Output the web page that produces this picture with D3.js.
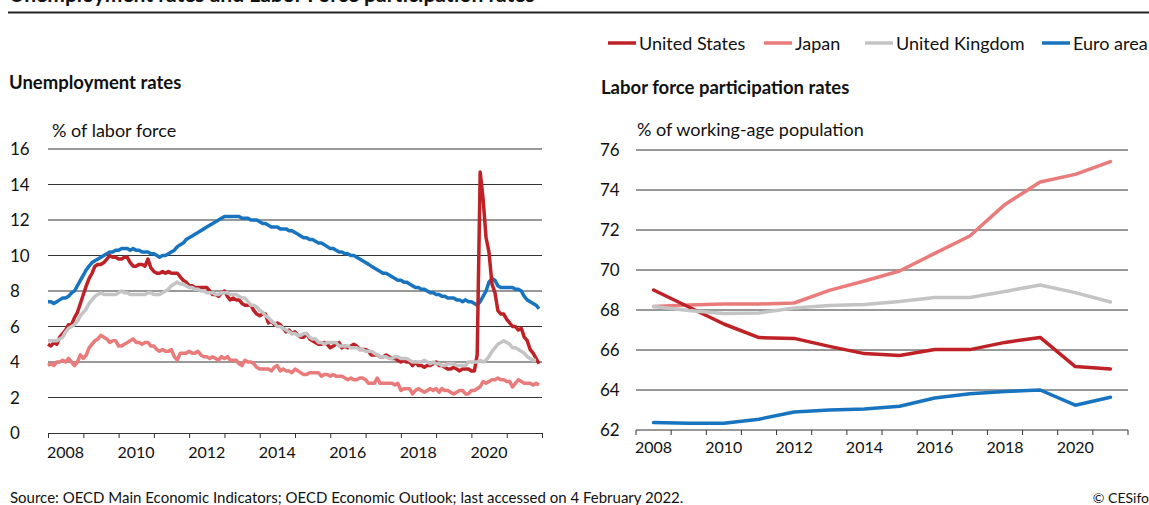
<!DOCTYPE html>
<html>
<head>
<meta charset="utf-8">
<script src="https://cdn.jsdelivr.net/npm/d3@7"></script>
<style>
  body { margin: 0; background: #fff; }
  svg { font-family: Lato, "Noto Sans", sans-serif; }
</style>
</head>
<body>
<div id="chart"></div>
<script>
// series names and colours (legend order)
var seriesNames = ["United States", "Japan", "United Kingdom", "Euro area"];
var seriesColors = ["#be2126", "#e97b7b", "#c4c4c4", "#1874be"];

// monthly unemployment rates, Jan 2008 - Dec 2021 (% of labor force)
var usUnemp = [
  5.0, 4.9, 5.1, 5.0, 5.4, 5.6, 5.8, 6.1, 6.1, 6.5, 6.8, 7.3,
  7.8, 8.3, 8.7, 9.0, 9.4, 9.5, 9.5, 9.6, 9.8, 10.0, 9.9, 9.9,
  9.8, 9.8, 9.9, 9.9, 9.6, 9.4, 9.4, 9.5, 9.5, 9.4, 9.8, 9.3,
  9.1, 9.0, 9.0, 9.1, 9.0, 9.1, 9.0, 9.0, 9.0, 8.8, 8.6, 8.5,
  8.3, 8.3, 8.2, 8.2, 8.2, 8.2, 8.2, 8.0, 7.8, 7.8, 7.7, 7.9,
  8.0, 7.7, 7.5, 7.6, 7.5, 7.5, 7.3, 7.2, 7.2, 7.2, 6.9, 6.7,
  6.6, 6.7, 6.7, 6.2, 6.3, 6.1, 6.2, 6.1, 5.9, 5.7, 5.8, 5.6,
  5.7, 5.5, 5.4, 5.4, 5.6, 5.3, 5.2, 5.1, 5.0, 5.0, 5.1, 5.0,
  4.8, 4.9, 5.0, 5.1, 4.8, 4.9, 4.8, 4.9, 5.0, 4.9, 4.7, 4.7,
  4.7, 4.6, 4.4, 4.4, 4.4, 4.3, 4.3, 4.4, 4.3, 4.2, 4.2, 4.1,
  4.0, 4.1, 4.0, 4.0, 3.8, 4.0, 3.8, 3.8, 3.7, 3.8, 3.8, 3.9,
  4.0, 3.8, 3.8, 3.7, 3.6, 3.6, 3.7, 3.6, 3.5, 3.6, 3.6, 3.6,
  3.5, 3.5, 4.4, 14.7, 13.2, 11.0, 10.2, 8.4, 7.9, 6.9, 6.7, 6.7,
  6.4, 6.2, 6.0, 6.0, 5.8, 5.9, 5.4, 5.2, 4.7, 4.5, 4.2, 3.9
];
var jpUnemp = [
  3.8, 3.9, 3.8, 4.0, 4.0, 4.1, 4.0, 4.2, 4.0, 3.8, 4.0, 4.4,
  4.2, 4.4, 4.8, 5.0, 5.2, 5.3, 5.5, 5.4, 5.3, 5.1, 5.2, 5.2,
  4.9, 4.9, 5.0, 5.1, 5.2, 5.3, 5.1, 5.1, 5.0, 5.1, 5.1, 4.9,
  4.9, 4.7, 4.6, 4.7, 4.6, 4.6, 4.7, 4.3, 4.1, 4.5, 4.5, 4.5,
  4.6, 4.5, 4.5, 4.6, 4.4, 4.3, 4.3, 4.2, 4.3, 4.2, 4.1, 4.3,
  4.2, 4.3, 4.1, 4.1, 4.1, 3.9, 3.8, 4.1, 4.0, 4.0, 3.9, 3.7,
  3.6, 3.6, 3.6, 3.6, 3.5, 3.7, 3.8, 3.5, 3.6, 3.5, 3.5, 3.4,
  3.6, 3.5, 3.4, 3.3, 3.3, 3.4, 3.4, 3.4, 3.4, 3.2, 3.3, 3.3,
  3.2, 3.3, 3.2, 3.2, 3.2, 3.1, 3.0, 3.1, 3.0, 3.0, 3.1, 3.1,
  3.0, 2.8, 2.8, 2.8, 3.1, 2.8, 2.8, 2.8, 2.8, 2.8, 2.7, 2.8,
  2.4, 2.5, 2.5, 2.5, 2.2, 2.4, 2.5, 2.4, 2.3, 2.4, 2.5, 2.4,
  2.5, 2.3, 2.5, 2.4, 2.4, 2.3, 2.2, 2.3, 2.4, 2.4, 2.2, 2.2,
  2.4, 2.4, 2.5, 2.6, 2.9, 2.8, 2.9, 3.0, 3.0, 3.1, 3.0, 3.0,
  2.9, 2.9, 2.6, 2.8, 3.0, 2.9, 2.8, 2.8, 2.8, 2.7, 2.8, 2.7
];
// UK series stops at Nov 2021
var ukUnemp = [
  5.2, 5.2, 5.2, 5.2, 5.3, 5.4, 5.7, 5.9, 6.0, 6.1, 6.3, 6.6,
  6.8, 7.0, 7.3, 7.5, 7.7, 7.8, 7.9, 7.8, 7.8, 7.8, 7.8, 7.8,
  7.9, 8.0, 7.9, 7.9, 7.8, 7.8, 7.8, 7.8, 7.8, 7.8, 7.9, 7.9,
  7.8, 7.8, 7.8, 7.9, 8.0, 8.1, 8.3, 8.4, 8.5, 8.4, 8.4, 8.3,
  8.2, 8.2, 8.1, 8.1, 8.0, 8.0, 7.9, 7.9, 7.9, 7.8, 7.8, 7.9,
  7.9, 7.9, 7.8, 7.8, 7.8, 7.7, 7.6, 7.6, 7.4, 7.2, 7.2, 7.1,
  6.9, 6.8, 6.6, 6.5, 6.3, 6.2, 6.0, 6.0, 5.9, 5.8, 5.7, 5.6,
  5.6, 5.5, 5.5, 5.6, 5.6, 5.4, 5.3, 5.3, 5.1, 5.1, 5.0, 5.1,
  5.1, 5.1, 5.1, 4.9, 4.9, 4.9, 4.9, 4.8, 4.8, 4.8, 4.7, 4.7,
  4.6, 4.6, 4.6, 4.5, 4.4, 4.3, 4.3, 4.3, 4.2, 4.2, 4.3, 4.3,
  4.2, 4.2, 4.2, 4.1, 4.0, 4.0, 4.0, 4.0, 4.1, 4.0, 3.9, 4.0,
  3.9, 3.9, 3.8, 3.8, 3.9, 3.9, 3.9, 3.8, 3.8, 3.8, 3.8, 4.0,
  4.0, 4.0, 4.0, 4.1, 4.0, 4.1, 4.3, 4.6, 4.8, 5.0, 5.1, 5.2,
  5.1, 5.0, 4.8, 4.8, 4.7, 4.6, 4.5, 4.3, 4.2, 4.1, 4.1
];
var euUnemp = [
  7.4, 7.4, 7.3, 7.4, 7.5, 7.6, 7.6, 7.7, 7.9, 8.0, 8.3, 8.6,
  8.9, 9.2, 9.4, 9.6, 9.7, 9.8, 9.9, 10.0, 10.1, 10.2, 10.2, 10.3,
  10.3, 10.4, 10.4, 10.4, 10.3, 10.4, 10.3, 10.3, 10.2, 10.2, 10.2, 10.1,
  10.1, 10.0, 9.9, 10.0, 10.0, 10.1, 10.2, 10.3, 10.5, 10.6, 10.7, 10.9,
  11.0, 11.1, 11.2, 11.3, 11.4, 11.5, 11.6, 11.7, 11.8, 11.9, 12.0, 12.1,
  12.2, 12.2, 12.2, 12.2, 12.2, 12.2, 12.1, 12.1, 12.1, 12.0, 12.0, 12.0,
  11.9, 11.8, 11.8, 11.7, 11.6, 11.6, 11.6, 11.5, 11.5, 11.5, 11.4, 11.4,
  11.3, 11.2, 11.1, 11.0, 11.0, 10.9, 10.9, 10.8, 10.7, 10.7, 10.6, 10.5,
  10.4, 10.4, 10.3, 10.2, 10.2, 10.1, 10.1, 10.0, 10.0, 9.9, 9.8, 9.7,
  9.6, 9.5, 9.4, 9.3, 9.2, 9.1, 9.0, 9.0, 8.9, 8.8, 8.7, 8.6,
  8.6, 8.5, 8.5, 8.4, 8.3, 8.2, 8.2, 8.1, 8.1, 8.0, 7.9, 7.9,
  7.8, 7.8, 7.7, 7.7, 7.6, 7.6, 7.6, 7.5, 7.5, 7.4, 7.5, 7.4,
  7.4, 7.3, 7.2, 7.4, 7.7, 8.0, 8.5, 8.7, 8.6, 8.3, 8.2, 8.2,
  8.2, 8.2, 8.2, 8.1, 8.1, 8.0, 7.7, 7.5, 7.4, 7.3, 7.2, 7.0
];

// annual labor force participation rates (% of working-age population)
var lfpYears = [2008, 2009, 2010, 2011, 2012, 2013, 2014, 2015, 2016, 2017, 2018, 2019, 2020, 2021];
var usLfp = [69.0, 68.15, 67.3, 66.62, 66.58, 66.18, 65.82, 65.72, 66.02, 66.02, 66.38, 66.63, 65.17, 65.05];
var jpLfp = [68.18, 68.25, 68.3, 68.3, 68.35, 68.98, 69.45, 69.95, 70.83, 71.7, 73.28, 74.4, 74.78, 75.42];
var ukLfp = [68.18, 67.98, 67.82, 67.85, 68.1, 68.23, 68.28, 68.43, 68.63, 68.63, 68.93, 69.25, 68.87, 68.4];
var euLfp = [62.37, 62.34, 62.34, 62.54, 62.9, 63.0, 63.05, 63.19, 63.6, 63.81, 63.92, 64.0, 63.24, 63.64];

// tick labels
var leftYTicks = [0, 2, 4, 6, 8, 10, 12, 14, 16];
var rightYTicks = [62, 64, 66, 68, 70, 72, 74, 76];
var xLabelYears = [2008, 2010, 2012, 2014, 2016, 2018, 2020];

var width = 1149,
  height = 505;

var svg = d3
  .select("#chart")
  .append("svg")
  .attr("width", width)
  .attr("height", height);

// **************** Header ****************

// title sits mostly above the top edge, as in the source image
svg
  .append("text")
  .attr("x", 9)
  .attr("y", 1.5)
  .attr("font-size", 21)
  .attr("font-weight", "bold")
  .attr("fill", "#111")
  .text("Unemployment rates and Labor Force participation rates");

svg
  .append("line")
  .attr("x1", 8)
  .attr("x2", width)
  .attr("y1", 12.5)
  .attr("y2", 12.5)
  .attr("stroke", "#222")
  .attr("stroke-width", 2);

// legend
var legendX = [608, 764, 865, 1042];
var legend = svg
  .selectAll("g.legend")
  .data(seriesNames)
  .enter()
  .append("g")
  .attr("class", "legend")
  .attr("transform", function (d, i) {
    return "translate(" + legendX[i] + ",43)";
  });

legend
  .append("line")
  .attr("x1", 0)
  .attr("x2", 28)
  .attr("stroke", function (d, i) {
    return seriesColors[i];
  })
  .attr("stroke-width", 3.5);

legend
  .append("text")
  .attr("x", 31)
  .attr("y", 6.5)
  .attr("font-size", 18)
  .attr("fill", "#111")
  .text(function (d) {
    return d;
  });

// **************** Left panel: unemployment ****************

var months = d3.range(usUnemp.length).map(function (i) {
  return new Date(2008, i, 1);
});

var xL = d3
  .scaleTime()
  .domain([new Date(2008, 0, 1), new Date(2022, 0, 1)])
  .range([48, 542]);
var yL = d3.scaleLinear().domain([0, 16]).range([433, 149]);

var left = svg.append("g");

left
  .append("text")
  .attr("x", 9)
  .attr("y", 89)
  .attr("font-size", 18.5)
  .attr("font-weight", "bold")
  .attr("fill", "#111")
  .text("Unemployment rates");

left
  .append("text")
  .attr("x", 52)
  .attr("y", 137)
  .attr("font-size", 18)
  .attr("fill", "#111")
  .text("% of labor force");

// gridlines (0 is the axis line)
left
  .selectAll("line.grid")
  .data(leftYTicks.slice(1))
  .enter()
  .append("line")
  .attr("class", "grid")
  .attr("x1", xL.range()[0])
  .attr("x2", xL.range()[1])
  .attr("y1", function (d) {
    return yL(d);
  })
  .attr("y2", function (d) {
    return yL(d);
  })
  .attr("stroke", "#333")
  .attr("stroke-width", 1);

left
  .selectAll("text.ylab")
  .data(leftYTicks)
  .enter()
  .append("text")
  .attr("class", "ylab")
  .attr("x", 10)
  .attr("y", function (d) {
    return yL(d) + 6;
  })
  .attr("font-size", 17)
  .attr("fill", "#111")
  .text(function (d) {
    return d;
  });

// x axis: ticks at year starts, labels centred mid-year
var xAxisL = d3
  .axisBottom(xL)
  .ticks(d3.timeYear.every(1))
  .tickSize(5)
  .tickFormat("");

left
  .append("g")
  .attr("transform", "translate(0," + yL(0) + ")")
  .call(xAxisL)
  .call(function (g) {
    g.select(".domain").attr("stroke", "#333");
    g.selectAll(".tick line").attr("stroke", "#333");
  });

left
  .selectAll("text.xlab")
  .data(xLabelYears)
  .enter()
  .append("text")
  .attr("class", "xlab")
  .attr("x", function (d) {
    return xL(new Date(d, 6, 1));
  })
  .attr("y", 458)
  .attr("text-anchor", "middle")
  .attr("font-size", 16)
  .attr("fill", "#111")
  .text(function (d) {
    return d;
  });

var lineL = d3
  .line()
  .x(function (d, i) {
    return xL(months[i]);
  })
  .y(function (d) {
    return yL(d);
  });

// draw order: Euro area, Japan, United States, United Kingdom
var leftSeries = [
  { values: euUnemp, color: seriesColors[3] },
  { values: jpUnemp, color: seriesColors[1] },
  { values: usUnemp, color: seriesColors[0] },
  { values: ukUnemp, color: seriesColors[2] }
];

left
  .selectAll("path.series")
  .data(leftSeries)
  .enter()
  .append("path")
  .attr("class", "series")
  .attr("d", function (d) {
    return lineL(d.values);
  })
  .attr("fill", "none")
  .attr("stroke", function (d) {
    return d.color;
  })
  .attr("stroke-width", 3.5)
  .attr("stroke-linejoin", "round");

// **************** Right panel: participation ****************

var xR = d3.scaleBand().domain(lfpYears).range([636, 1128]);
var yR = d3.scaleLinear().domain([62, 76]).range([430, 150]);

var right = svg.append("g");

right
  .append("text")
  .attr("x", 601)
  .attr("y", 94)
  .attr("font-size", 18.5)
  .attr("font-weight", "bold")
  .attr("fill", "#111")
  .text("Labor force participation rates");

right
  .append("text")
  .attr("x", 637)
  .attr("y", 136)
  .attr("font-size", 18)
  .attr("fill", "#111")
  .text("% of working-age population");

right
  .selectAll("line.grid")
  .data(rightYTicks.slice(1))
  .enter()
  .append("line")
  .attr("class", "grid")
  .attr("x1", xR.range()[0])
  .attr("x2", xR.range()[1])
  .attr("y1", function (d) {
    return yR(d);
  })
  .attr("y2", function (d) {
    return yR(d);
  })
  .attr("stroke", "#333")
  .attr("stroke-width", 1);

right
  .selectAll("text.ylab")
  .data(rightYTicks)
  .enter()
  .append("text")
  .attr("class", "ylab")
  .attr("x", 600)
  .attr("y", function (d) {
    return yR(d) + 6;
  })
  .attr("font-size", 17)
  .attr("fill", "#111")
  .text(function (d) {
    return d;
  });

// baseline with tick marks on band edges
right
  .append("line")
  .attr("x1", xR.range()[0])
  .attr("x2", xR.range()[1])
  .attr("y1", yR(62))
  .attr("y2", yR(62))
  .attr("stroke", "#333");

var bandEdges = lfpYears.map(function (d) {
  return xR(d);
});
bandEdges.push(xR.range()[1]);

right
  .selectAll("line.tick")
  .data(bandEdges)
  .enter()
  .append("line")
  .attr("class", "tick")
  .attr("x1", function (d) {
    return d;
  })
  .attr("x2", function (d) {
    return d;
  })
  .attr("y1", yR(62))
  .attr("y2", yR(62) + 5)
  .attr("stroke", "#333");

right
  .selectAll("text.xlab")
  .data(xLabelYears)
  .enter()
  .append("text")
  .attr("class", "xlab")
  .attr("x", function (d) {
    return xR(d) + xR.bandwidth() / 2;
  })
  .attr("y", 453)
  .attr("text-anchor", "middle")
  .attr("font-size", 16)
  .attr("fill", "#111")
  .text(function (d) {
    return d;
  });

var lineR = d3
  .line()
  .x(function (d, i) {
    return xR(lfpYears[i]) + xR.bandwidth() / 2;
  })
  .y(function (d) {
    return yR(d);
  });

var rightSeries = [
  { values: euLfp, color: seriesColors[3] },
  { values: jpLfp, color: seriesColors[1] },
  { values: usLfp, color: seriesColors[0] },
  { values: ukLfp, color: seriesColors[2] }
];

right
  .selectAll("path.series")
  .data(rightSeries)
  .enter()
  .append("path")
  .attr("class", "series")
  .attr("d", function (d) {
    return lineR(d.values);
  })
  .attr("fill", "none")
  .attr("stroke", function (d) {
    return d.color;
  })
  .attr("stroke-width", 3.5)
  .attr("stroke-linejoin", "round")
  .attr("stroke-linecap", "round");

// **************** Footer ****************

svg
  .append("text")
  .attr("x", 10)
  .attr("y", 503)
  .attr("font-size", 15)
  .attr("fill", "#111")
  .text("Source: OECD Main Economic Indicators; OECD Economic Outlook; last accessed on 4 February 2022.");

svg
  .append("text")
  .attr("x", 1149)
  .attr("y", 503)
  .attr("text-anchor", "end")
  .attr("font-size", 14)
  .attr("fill", "#111")
  .text("© CESifo");
</script>
</body>
</html>
